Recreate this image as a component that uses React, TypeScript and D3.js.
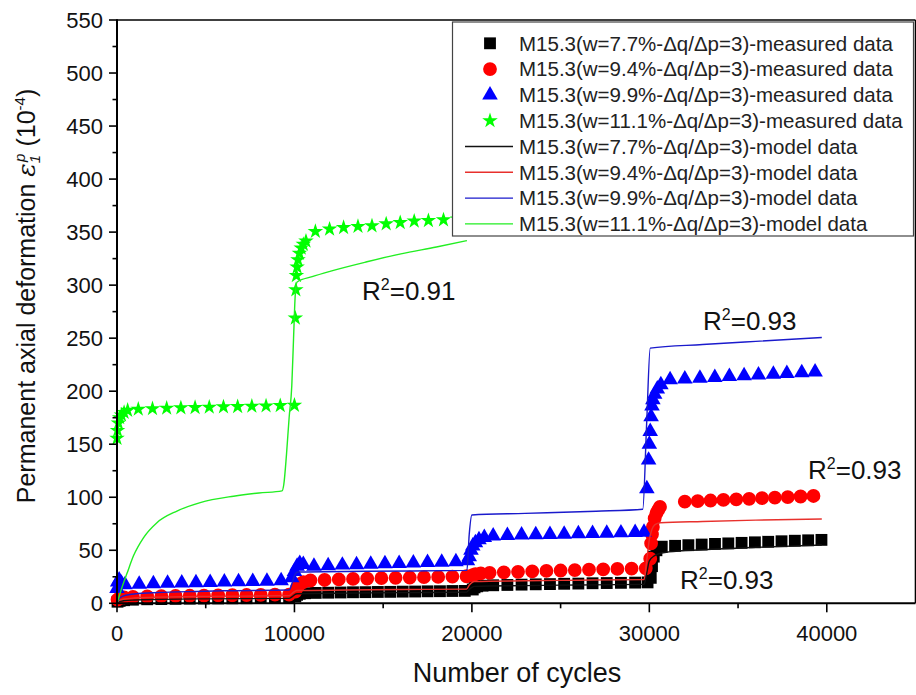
import React from 'react';
import * as d3 from 'd3';

const W = 916;
const H = 695;
const FONT = '"Liberation Sans", Arial, Helvetica, sans-serif';

// ---------- axis ticks ----------
const xMajorTicks = [0, 10000, 20000, 30000, 40000];
const xMinorTicks = [5000, 15000, 25000, 35000];
const yMajorTicks = [0, 50, 100, 150, 200, 250, 300, 350, 400, 450, 500, 550];
const yMinorTicks = [25, 75, 125, 175, 225, 275, 325, 375, 425, 475, 525];

// ---------- measured data [cycles, deformation] ----------
const blackMeasured: [number, number][] = [
  [30, 1.5], [150, 2.3], [400, 2.9], [900, 3.4], [1700, 3.8], [2500, 4.0], [3300, 4.2], [4100, 4.4], [4900, 4.5], [5700, 4.6], [6500, 4.7], [7300, 4.8], [8100, 4.9], [8900, 5.0], [9700, 5.1],
  [10050, 6.5], [10150, 8], [10300, 9], [10600, 9.5], [11200, 9.8], [11900, 10], [12600, 10.2], [13300, 10.4], [14000, 10.5], [14700, 10.7], [15400, 10.8], [16100, 11], [16800, 11.1], [17500, 11.3], [18200, 11.4], [18900, 11.6], [19600, 11.7],
  [20050, 13], [20150, 15], [20300, 16], [20600, 16.6], [21200, 17], [22000, 17.3], [22800, 17.6], [23600, 17.9], [24400, 18.1], [25200, 18.4], [26000, 18.6], [26800, 18.9], [27600, 19.1], [28400, 19.3], [29200, 19.5], [29900, 19.7],
  [30080, 24], [30150, 35], [30250, 44], [30400, 50], [30700, 53.4], [31450, 54.2], [32200, 54.8], [32950, 55.4], [33700, 56], [34450, 56.5], [35200, 57], [35950, 57.5], [36700, 58], [37450, 58.5], [38200, 59], [38950, 59.4], [39700, 59.8],
];

const redMeasured: [number, number][] = [
  [30, 3.5], [150, 4.8], [400, 5.5], [900, 6], [1700, 6.4], [2500, 6.7], [3300, 6.9], [4100, 7.1], [4900, 7.3], [5700, 7.5], [6500, 7.6], [7300, 7.8], [8100, 7.9], [8900, 8.1], [9700, 8.2],
  [10050, 11], [10150, 15], [10300, 18], [10500, 20], [10900, 21.5], [11700, 22], [12500, 22.5], [13300, 23], [14100, 23.3], [14900, 23.7], [15700, 24], [16500, 24.3], [17300, 24.6], [18100, 24.9], [18900, 25.2], [19700, 25.5],
  [20050, 26.5], [20200, 27.5], [20500, 28.2], [21000, 28.7], [21800, 29.2], [22600, 29.7], [23400, 30.1], [24200, 30.5], [25000, 30.9], [25800, 31.3], [26600, 31.7], [27400, 32], [28200, 32.4], [29000, 32.7], [29800, 33],
  [30050, 42], [30100, 56.6], [30150, 65], [30200, 72], [30300, 80], [30400, 85], [30500, 88], [30600, 91], [32000, 95.8], [32725, 96.4], [33450, 96.9], [34175, 97.5], [34900, 98], [35625, 98.5], [36350, 99.1], [37075, 99.6], [37800, 100.1], [38525, 100.7], [39250, 101.2],
];

const blueMeasured: [number, number][] = [
  [0, 14], [40, 20], [120, 22], [250, 19], [450, 17.5], [1250, 18], [2050, 18.4], [2850, 18.8], [3650, 19.1], [4450, 19.4], [5250, 19.7], [6050, 20], [6850, 20.3], [7650, 20.6], [8450, 20.9], [9250, 21.2],
  [9850, 24], [10000, 30], [10150, 35], [10300, 37.5], [10500, 36.5], [11100, 35], [11900, 35.5], [12700, 36], [13500, 36.4], [14300, 36.8], [15100, 37.2], [15900, 37.6], [16700, 38], [17500, 38.4], [18300, 38.8], [19100, 39.2], [19750, 40],
  [19850, 44], [19950, 50], [20050, 54], [20200, 57], [20400, 60], [20700, 62], [21200, 63.5], [22000, 64], [22800, 64.3], [23600, 64.6], [24400, 64.9], [25200, 65.2], [26000, 65.5], [26800, 65.8], [27600, 66.1], [28400, 66.4], [29200, 66.7],
  [29700, 67], [29860, 108], [29960, 135], [30000, 150], [30050, 162], [30100, 176], [30150, 186], [30200, 192], [30300, 197], [30450, 202], [30650, 206], [31170, 210.7], [32000, 211.5], [32850, 212.3], [33690, 213], [34510, 213.8], [35340, 214.5], [36150, 215.2], [36990, 215.9], [37750, 216.6], [38590, 217.3], [39340, 218],
];

const greenMeasured: [number, number][] = [
  [0, 155.6], [30, 163], [80, 170], [150, 175], [250, 177.6], [400, 180], [600, 182], [1200, 183], [2000, 183.5], [2800, 184], [3600, 184.3], [4400, 184.6], [5200, 184.9], [6000, 185.2], [6800, 185.5], [7600, 185.8], [8400, 186.1], [9200, 186.4], [10000, 186.7],
  [10050, 268.9], [10080, 295.6], [10110, 309], [10150, 317], [10200, 324], [10280, 330], [10380, 335], [10500, 338.5], [10650, 341.5], [11180, 350.6], [11980, 352.8], [12770, 354.3], [13580, 355.3], [14370, 355.9], [15170, 357.8], [15960, 359], [16750, 360.4], [17550, 360.9], [18400, 361.6], [19200, 362.3], [20000, 363],
];

// ---------- model data ----------
const blackModel: [number, number][] = [
  [0, 0], [100, 1.5], [400, 2.5], [1000, 3.1], [2500, 3.7], [5000, 4.2], [9700, 4.6], [9850, 6], [10000, 8], [10150, 9], [13000, 9.6], [16000, 10.1], [19700, 10.5],
  [19850, 13], [20000, 15], [20150, 16], [23000, 16.7], [26000, 17.3], [29700, 17.8], [29850, 28], [30000, 40], [30300, 45], [30600, 47], [31100, 48.5], [33000, 50.5], [36000, 52.8], [39720, 55],
];
const redModel: [number, number][] = [
  [0, 0], [100, 2.5], [400, 4], [1000, 5], [2500, 5.8], [5000, 6.5], [9700, 7.2], [9850, 9], [10000, 11], [10150, 12], [13000, 12.5], [16000, 13], [19700, 13.4],
  [19850, 17], [20000, 19.5], [20150, 20.5], [23000, 21.2], [26000, 21.8], [29700, 22.3], [29850, 40], [30000, 60], [30300, 74], [30620, 76], [33000, 77.2], [36000, 78.4], [39720, 79.5],
];
const blueModel: [number, number][] = [
  [0, 0], [100, 4], [300, 6.5], [800, 8.5], [2000, 10], [4000, 11], [6000, 11.8], [9700, 12.5], [9850, 18], [10000, 26], [10200, 29.5], [14000, 30.2], [19720, 31],
  [19850, 65], [20000, 83.3], [23000, 84.8], [27000, 86.8], [29630, 88.7], [29850, 170], [30050, 240.6], [33000, 244], [36000, 247], [39720, 250.6],
];
const greenModel: [number, number][] = [
  [0, 0], [150, 8], [300, 16], [560, 28], [935, 45], [1500, 62], [2250, 76], [3380, 87], [4690, 95], [6570, 101], [8000, 104], [9300, 106],
  [9400, 112], [9550, 140], [9700, 175], [9850, 205], [9950, 250], [10050, 292], [10150, 303], [11000, 308], [12000, 313], [14085, 322], [16000, 329.5], [18000, 336], [19720, 342],
];

const legendLabels = [
  'M15.3(w=7.7%-\u0394q/\u0394p=3)-measured data',
  'M15.3(w=9.4%-\u0394q/\u0394p=3)-measured data',
  'M15.3(w=9.9%-\u0394q/\u0394p=3)-measured data',
  'M15.3(w=11.1%-\u0394q/\u0394p=3)-measured data',
  'M15.3(w=7.7%-\u0394q/\u0394p=3)-model data',
  'M15.3(w=9.4%-\u0394q/\u0394p=3)-model data',
  'M15.3(w=9.9%-\u0394q/\u0394p=3)-model data',
  'M15.3(w=11.1%-\u0394q/\u0394p=3)-model data',
];

const COL = { black: '#000000', red: '#ff0000', blue: '#0000ff', green: '#00ff00' };
const LINECOL = { black: '#111111', red: '#e8302c', blue: '#1a1acc', green: '#22ee22' };

export default function App() {
  const x = d3.scaleLinear().domain([0, 45000]).range([117, 915.5]);
  const y = d3.scaleLinear().domain([0, 550]).range([603.3, 20]);

  const sq = d3.symbol().type(d3.symbolSquare).size(140)();
  const ci = d3.symbol().type(d3.symbolCircle).size(150)();
  const tr = d3.symbol().type(d3.symbolTriangle).size(105)();
  const st = d3.symbol().type(d3.symbolStar).size(75)();

  const line = d3
    .line<[number, number]>()
    .x((d) => x(d[0]))
    .y((d) => y(d[1]))
    .curve(d3.curveMonotoneX);

  const measured = [
    { data: blackMeasured, path: sq, color: COL.black },
    { data: redMeasured, path: ci, color: COL.red },
    { data: blueMeasured, path: tr, color: COL.blue },
    { data: greenMeasured, path: st, color: COL.green },
  ];
  const models = [
    { data: blackModel, color: LINECOL.black },
    { data: redModel, color: LINECOL.red },
    { data: blueModel, color: LINECOL.blue },
    { data: greenModel, color: LINECOL.green },
  ];

  const x0 = x(0);
  const y0 = y(0);
  const yTop = y(550);
  const xRight = x(45000);

  const legendX = 452.5;
  const legendY = 22;
  const legendW = 461;
  const legendH = 214;
  const rowY = (i: number) => 43.3 + i * 25.8;
  const legendSym = [sq, ci, tr, st];
  const legendSymCol = [COL.black, COL.red, COL.blue, COL.green];
  const legendLineCol = [LINECOL.black, LINECOL.red, LINECOL.blue, LINECOL.green];

  const r2Labels = [
    { x: 362, y: 300, v: '0.91' },
    { x: 703, y: 330, v: '0.93' },
    { x: 808, y: 479, v: '0.93' },
    { x: 680, y: 589, v: '0.93' },
  ];

  return (
    <svg
      width={W}
      height={H}
      style={{ position: 'absolute', left: 0, top: 0, background: '#fff' }}
      fontFamily={FONT}
    >
      <rect x={0} y={0} width={W} height={H} fill="#fff" />

      {/* measured markers */}
      {measured.map((s, i) => (
        <g key={'m' + i} fill={s.color}>
          {s.data.map((d, j) => (
            <path key={j} d={s.path as string} transform={`translate(${x(d[0])},${y(d[1])})`} />
          ))}
        </g>
      ))}

      {/* model lines */}
      {models.map((m, i) => (
        <path key={'l' + i} d={line(m.data) as string} fill="none" stroke={m.color} strokeWidth={1.4} />
      ))}

      {/* frame */}
      <line x1={x0} y1={yTop} x2={xRight} y2={yTop} stroke="#000" strokeWidth={1.6} />
      <line x1={xRight} y1={yTop} x2={xRight} y2={y0} stroke="#000" strokeWidth={1.6} />
      <line x1={x0} y1={yTop - 0.8} x2={x0} y2={y0 + 0.8} stroke="#000" strokeWidth={2} />
      <line x1={x0 - 1} y1={y0} x2={xRight} y2={y0} stroke="#000" strokeWidth={2} />

      {/* y ticks */}
      {yMajorTicks.map((t) => (
        <g key={'ym' + t}>
          <line x1={x0 - 8} x2={x0} y1={y(t)} y2={y(t)} stroke="#000" strokeWidth={1.6} />
          <text x={x0 - 14} y={y(t)} dy="0.36em" textAnchor="end" fontSize={22} fill="#111">
            {t}
          </text>
        </g>
      ))}
      {yMinorTicks.map((t) => (
        <line key={'yn' + t} x1={x0 - 4.5} x2={x0} y1={y(t)} y2={y(t)} stroke="#000" strokeWidth={1.6} />
      ))}

      {/* x ticks */}
      {xMajorTicks.map((t) => (
        <g key={'xm' + t}>
          <line x1={x(t)} x2={x(t)} y1={y0} y2={y0 + 9} stroke="#000" strokeWidth={1.6} />
          <text x={x(t)} y={641} textAnchor="middle" fontSize={22} fill="#111">
            {t}
          </text>
        </g>
      ))}
      {xMinorTicks.map((t) => (
        <line key={'xn' + t} x1={x(t)} x2={x(t)} y1={y0} y2={y0 + 5} stroke="#000" strokeWidth={1.6} />
      ))}

      {/* axis titles */}
      <text x={517} y={682} textAnchor="middle" fontSize={27} fill="#111">
        Number of cycles
      </text>
      <text transform="translate(35,296) rotate(-90)" textAnchor="middle" fontSize={25} fill="#111">
        Permanent axial deformation{' '}
        <tspan fontFamily='"DejaVu Serif", serif' fontStyle="italic">
          ε
        </tspan>
        <tspan dy={5} fontSize={15} fontStyle="italic">
          1
        </tspan>
        <tspan dy={-15} dx={-7} fontSize={15} fontStyle="italic">
          p
        </tspan>
        <tspan dy={10}> (10</tspan>
        <tspan dy={-10} fontSize={15}>
          -4
        </tspan>
        <tspan dy={10}>)</tspan>
      </text>

      {/* R² labels */}
      {r2Labels.map((r, i) => (
        <text key={'r' + i} x={r.x} y={r.y} fontSize={26} fill="#111">
          R
          <tspan dy={-10} fontSize={16}>
            2
          </tspan>
          <tspan dy={10}>={r.v}</tspan>
        </text>
      ))}

      {/* legend */}
      <rect x={legendX} y={legendY} width={legendW} height={legendH} fill="#fff" stroke="#444" strokeWidth={1.2} />
      {legendLabels.map((lab, i) => (
        <g key={'lg' + i}>
          {i < 4 ? (
            <path d={legendSym[i] as string} fill={legendSymCol[i]} transform={`translate(490,${rowY(i)})`} />
          ) : (
            <line x1={465} x2={513} y1={rowY(i)} y2={rowY(i)} stroke={legendLineCol[i - 4]} strokeWidth={1.4} />
          )}
          <text x={519} y={rowY(i)} dy="0.36em" fontSize={20.5} fill="#222">
            {lab}
          </text>
        </g>
      ))}
    </svg>
  );
}
